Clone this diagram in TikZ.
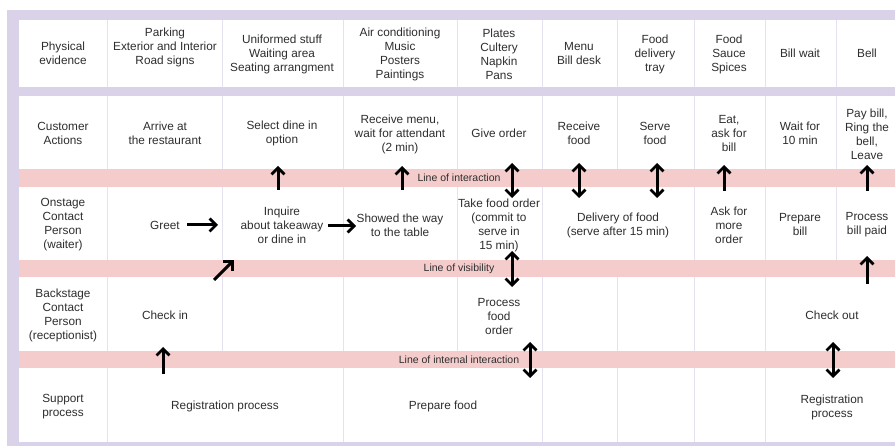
\documentclass[tikz,border=0pt]{standalone}
\usepackage{fontspec}
\setmainfont{Liberation Sans}
\usepackage{xcolor}
\usetikzlibrary{arrows.meta}
\definecolor{bplav}{HTML}{D9D2E9}
\definecolor{bppink}{HTML}{F4CCCC}
\definecolor{bpgrid}{HTML}{E6E1F0}
\definecolor{bptext}{HTML}{2E2E2E}

\tikzset{
  cell/.style={align=center, text=bptext, inner sep=0pt, font=\fontsize{11.8}{14}\selectfont},
  bandtxt/.style={text=bptext, inner sep=0pt, font=\fontsize{10.5}{12}\selectfont},
  flow/.style={line width=3pt, -{Straight Barb[length=6.5pt,width=13pt,line width=2.8pt]}},
  twoway/.style={line width=3pt, {Straight Barb[length=6.5pt,width=13pt,line width=2.8pt]}-{Straight Barb[length=6.5pt,width=13pt,line width=2.8pt]}},
}

\begin{document}
\begin{tikzpicture}[x=1pt, y=-1pt]
\useasboundingbox (0,0) rectangle (895,446);
\clip (0,0) rectangle (895,446);
% Frame and rows
\fill[white] (0,0) rectangle (895,446);
\fill[bplav] (7,10) rectangle (905,450);
\foreach \top/\bot in {20/87, 96/169, 187/260, 277/351, 368/442}
  \fill[white] (19,\top) rectangle (905,\bot);
\foreach \top/\bot in {169/187, 260/277, 351/368}
  \fill[bppink] (19,\top) rectangle (905,\bot);

% Column lines
\foreach \x in {107,222,343,457,542,617,694,765,836} {
  \draw[bpgrid] (\x,20) -- (\x,87);
  \draw[bpgrid] (\x,96) -- (\x,169);
}
\foreach \x in {107,222,343,457,542,694,765,836}
  \draw[bpgrid] (\x,187) -- (\x,260);
\foreach \x in {107,222,343,457,542,617,694,765}
  \draw[bpgrid] (\x,277) -- (\x,351);
\foreach \x in {107,343,542,617,694,765}
  \draw[bpgrid] (\x,368) -- (\x,442);

% Physical evidence
\node[cell] (pe) at (63,53) {Physical\\evidence};
\node[cell] (parking) at (165,47) {Parking\\Exterior and Interior\\Road signs};
\node[cell] (uniform) at (282,54) {Uniformed stuff\\Waiting area\\Seating arrangment};
\node[cell] (aircon) at (400,54) {Air conditioning\\Music\\Posters\\Paintings};
\node[cell] (plates) at (499,54) {Plates\\Cultery\\Napkin\\Pans};
\node[cell] (menu) at (579,54) {Menu\\Bill desk};
\node[cell] (tray) at (655,54) {Food\\delivery\\tray};
\node[cell] (sauce) at (729,54) {Food\\Sauce\\Spices};
\node[cell] (billwait) at (800,53) {Bill wait};
\node[cell] (bell) at (867,53) {Bell};

% Customer actions
\node[cell] (ca) at (63,133) {Customer\\Actions};
\node[cell] (arrive) at (165,133) {Arrive at\\the restaurant};
\node[cell] (select) at (282,133) {Select dine in\\option};
\node[cell] (recmenu) at (400,134) {Receive menu,\\wait for attendant\\(2 min)};
\node[cell] (giveorder) at (499,133) {Give order};
\node[cell] (recfood) at (579,133) {Receive\\food};
\node[cell] (serve) at (655,133) {Serve\\food};
\node[cell] (eat) at (729,134) {Eat,\\ask for\\bill};
\node[cell] (wait) at (800,133) {Wait for\\10 min};
\node[cell] (pay) at (867,134) {Pay bill,\\Ring the\\bell,\\Leave};

% Onstage contact person
\node[cell] (onstage) at (63,225) {Onstage\\Contact\\Person\\(waiter)};
\node[cell] (greet) at (165,225) {Greet};
\node[cell] (inquire) at (282,225) {Inquire\\about takeaway\\or dine in};
\node[cell] (showed) at (400,225) {Showed the way\\to the table};
\node[cell] (takeorder) at (499,225) {Take food order\\(commit to\\serve in\\15 min)};
\node[cell] (delivery) at (618,225) {Delivery of food\\(serve after 15 min)};
\node[cell] (askmore) at (729,225) {Ask for\\more\\order};
\node[cell] (prepbill) at (800,225) {Prepare\\bill};
\node[cell] (procbill) at (867,225) {Process\\bill paid};

% Backstage contact person
\node[cell] (backstage) at (63,315) {Backstage\\Contact\\Person\\(receptionist)};
\node[cell] (checkin) at (165,315) {Check in};
\node[cell] (procfood) at (499,316) {Process\\food\\order};
\node[cell] (checkout) at (832,315) {Check out};

% Support process
\node[cell] (support) at (63,407) {Support\\process};
\node[cell] (regproc) at (225,406) {Registration process};
\node[cell] (prepfood) at (443,406) {Prepare food};
\node[cell] (regproc2) at (832,407) {Registration\\process};

% Band labels
\node[bandtxt] (lint) at (459,178) {Line of interaction};
\node[bandtxt] (lvis) at (459,269) {Line of visibility};
\node[bandtxt] (linter) at (459,360) {Line of internal interaction};

% Arrows
\foreach \n/\a/\b in {up1/{278,190}/{278,166}, up2/{402,190}/{402,166},
    up3/{724,191}/{724,165}, up4/{867,191}/{867,165}, up5/{867,284}/{867,256},
    up6/{163,374}/{163,347}, rt1/{187,225}/{218,225}, rt2/{328,226}/{356,226},
    dg1/{214,280}/{234,260}} {
  \coordinate (\n-s) at (\a);
  \coordinate (\n-e) at (\b);
  \draw[flow] (\n-s) -- (\n-e);
}
\foreach \n/\x/\ya/\yb in {tw1/512/163/198, tw2/579/163/198, tw3/657/163/198,
    tw4/512/251/287, tw5/530/342/378, tw6/833/342/378} {
  \coordinate (\n-s) at (\x,\ya);
  \coordinate (\n-e) at (\x,\yb);
  \draw[twoway] (\n-s) -- (\n-e);
}
\end{tikzpicture}
\end{document}
